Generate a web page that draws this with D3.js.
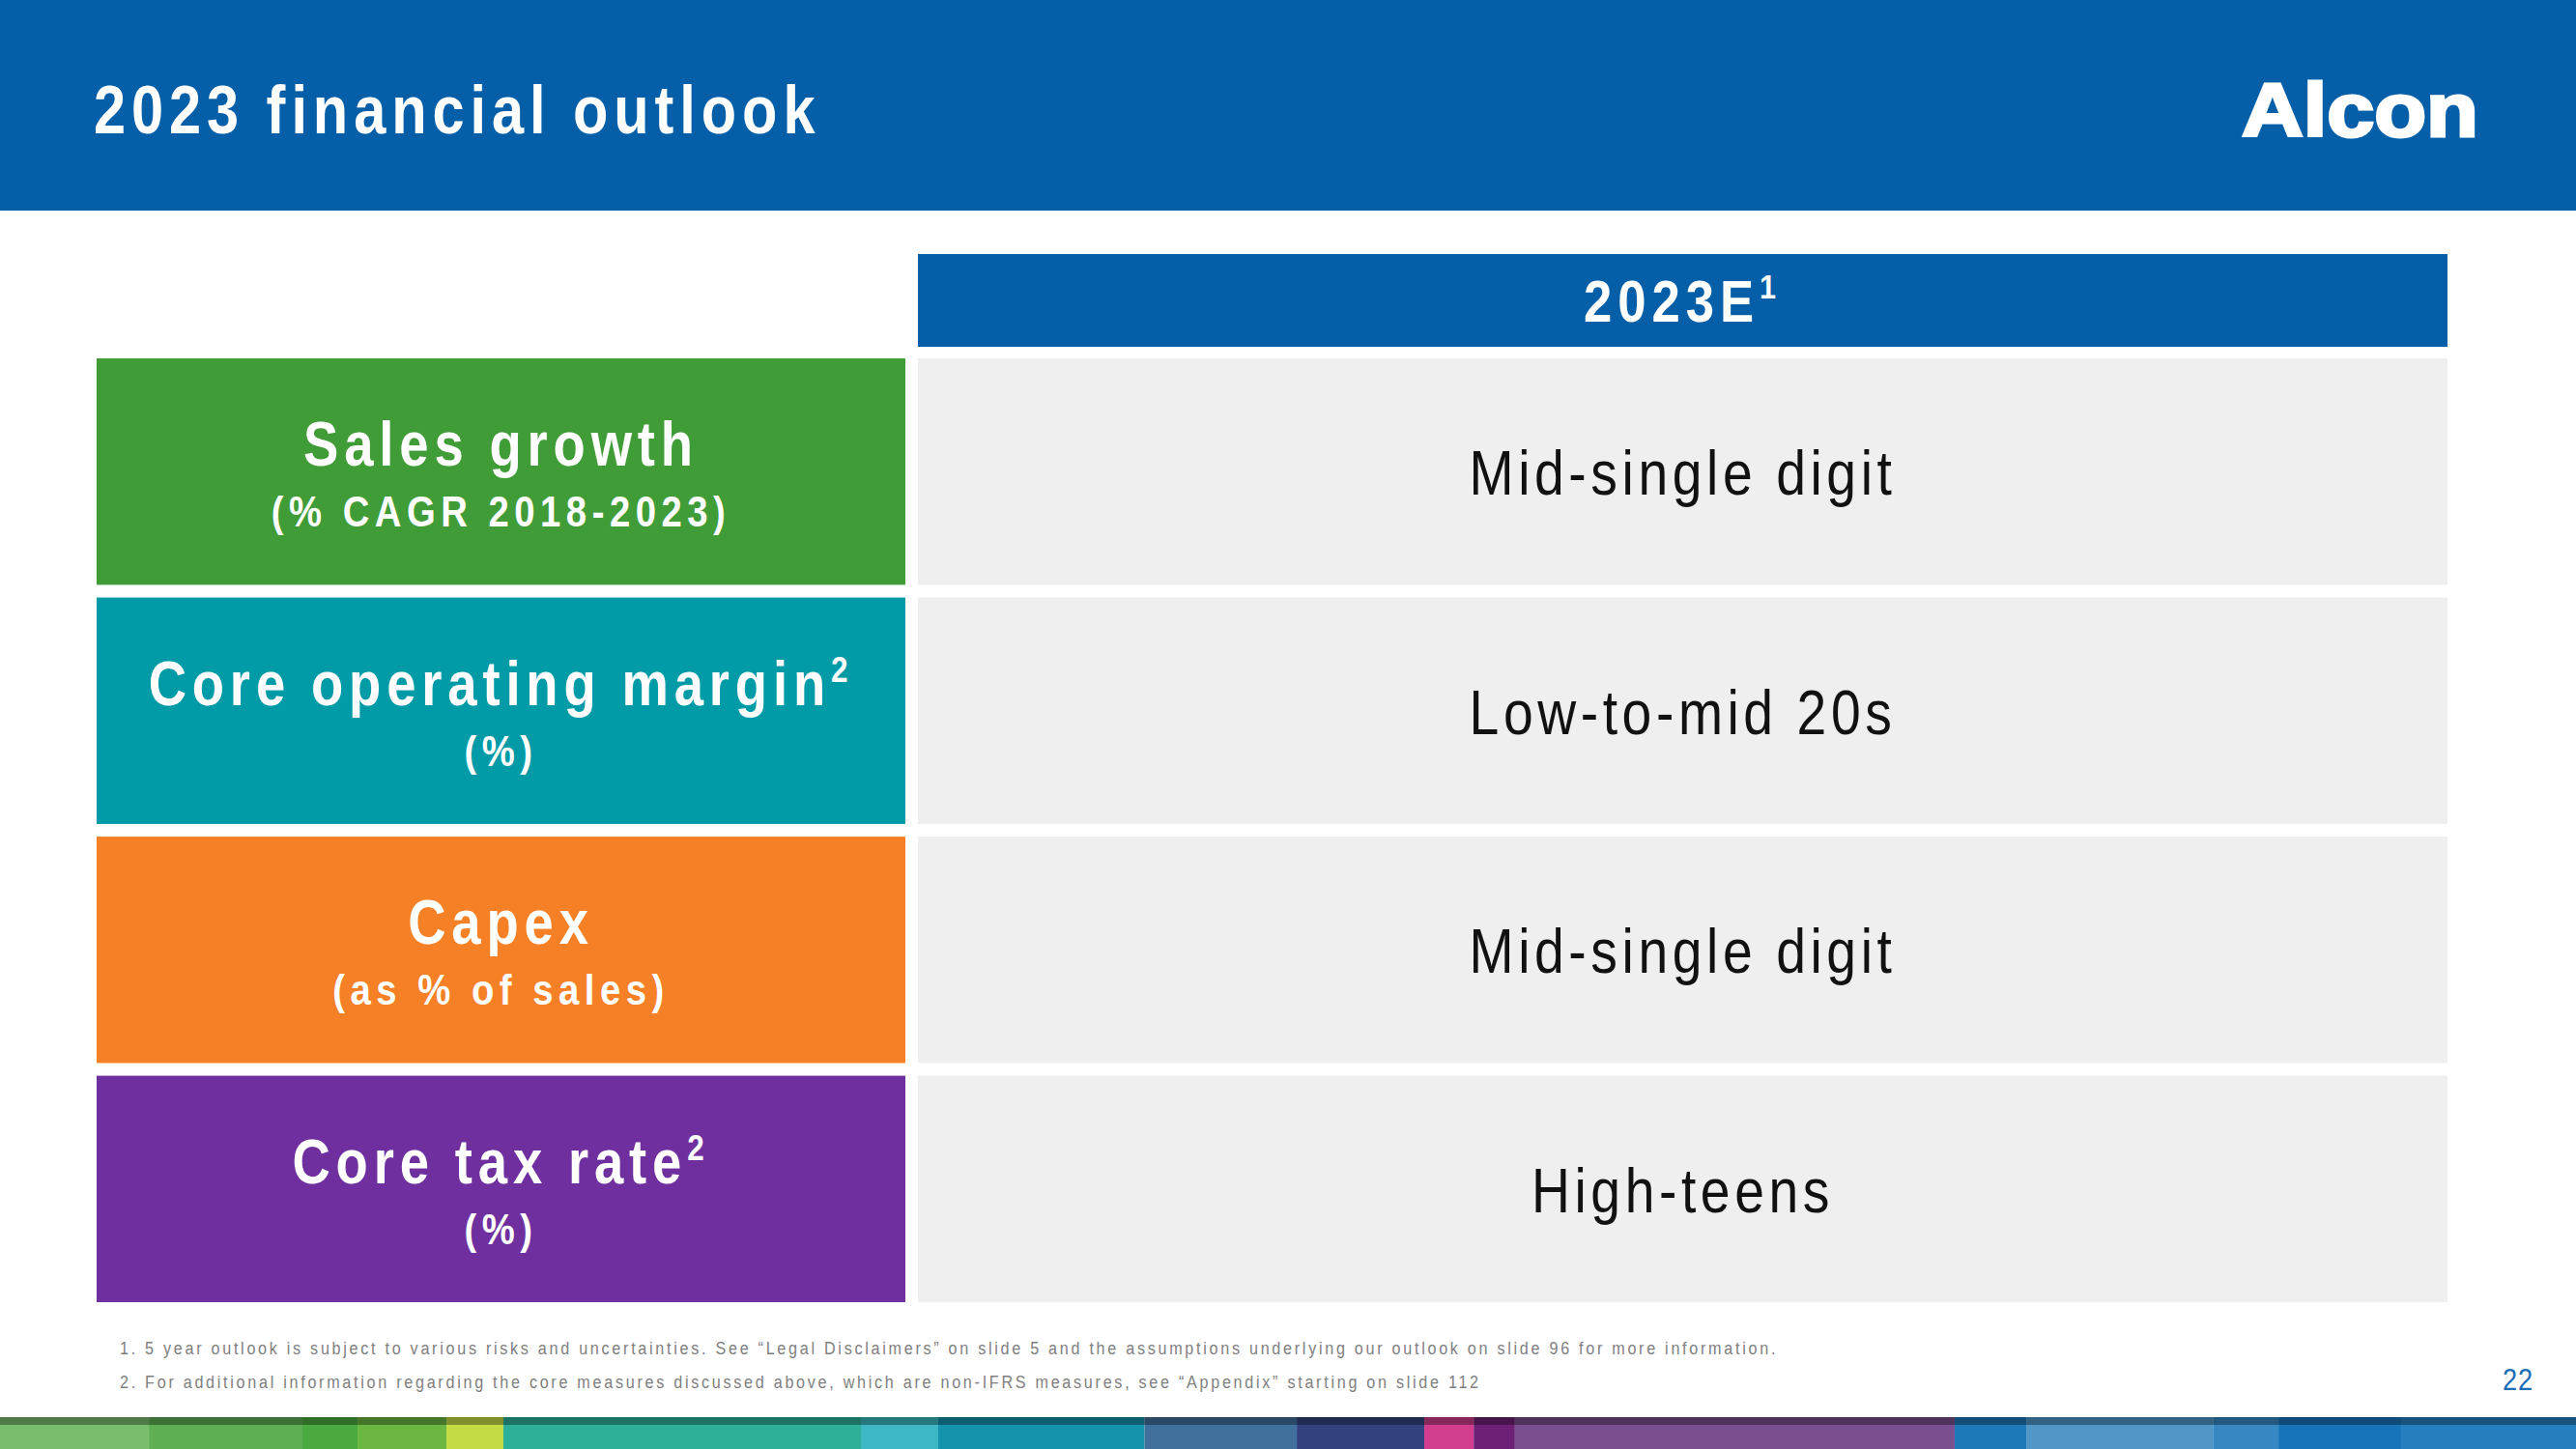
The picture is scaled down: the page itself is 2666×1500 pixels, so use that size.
<!DOCTYPE html>
<html>
<head>
<meta charset="utf-8">
<title>2023 financial outlook</title>
<script src="https://cdn.jsdelivr.net/npm/d3@7"></script>
<style>
  html, body { margin: 0; padding: 0; background: #ffffff; }
  svg { display: block; }
  text { font-family: "Liberation Sans", Arial, Helvetica, sans-serif; }
</style>
</head>
<body>
<div id="slide"></div>
<script>
// ---------------- data ----------------
var slideTitle = "2023 financial outlook";
var columnHeader = "2023E";
var columnHeaderNote = "1";

// one entry per row, top to bottom
var rowLabels = ["Sales growth", "Core operating margin", "Capex", "Core tax rate"];
var rowLabelNotes = ["", "2", "", "2"];
var rowSubLabels = ["(% CAGR 2018-2023)", "(%)", "(as % of sales)", "(%)"];
var outlook2023 = ["Mid-single digit", "Low-to-mid 20s", "Mid-single digit", "High-teens"];

var footnotes = [
  "1. 5 year outlook is subject to various risks and uncertainties. See \u201cLegal Disclaimers\u201d on slide 5 and the assumptions underlying our outlook on slide 96 for more information.",
  "2. For additional information regarding the core measures discussed above, which are non-IFRS measures, see \u201cAppendix\u201d starting on slide 112"
];
var pageNumber = "22";

// decorative colour strip at the bottom: stops in % of slide width
var stripeStops = [0, 5.78, 11.74, 13.88, 17.33, 19.54, 33.42, 36.42, 44.43, 50.34, 55.29, 57.21, 58.81, 75.88, 78.66, 85.93, 88.45, 93.21, 100];
var stripeColors = ["#78be6c", "#5faf55", "#4aa93f", "#6bb742", "#c6dc45", "#2eaf98", "#3db7c3", "#1592ac",
                    "#41709d", "#33427f", "#d23d8e", "#6d2176", "#7a4f90", "#1d79b8", "#5097c8", "#3787c3",
                    "#1774ba", "#2680c0"];

// ---------------- styles ----------------
var brandBlue = "#045fa8";
var rowColors = ["#409c36", "#009ba7", "#f58025", "#6f2f9f"];
var cellGrey = "#efefef";
// the slide font is a condensed sans: squeeze glyphs horizontally
var narrow = 0.85;

// ---------------- layout ----------------
var W = 2666, H = 1500;
var headerH = 218;
var leftX0 = 100, leftX1 = 937;     // label column
var rightX0 = 950, rightX1 = 2533;  // 2023E column
var colHeadY0 = 263, colHeadY1 = 359;

var svg = d3.select("#slide").append("svg")
  .attr("width", W)
  .attr("height", H)
  .attr("viewBox", "0 0 " + W + " " + H);

// rows placed by a band scale
var y = d3.scaleBand()
  .domain(d3.range(rowLabels.length))
  .range([371, 1348])
  .paddingInner(0.053);

// place a text at (x, y) with the condensed look
function at(x, yy) {
  return "translate(" + x + "," + yy + ") scale(" + narrow + ",1)";
}

// title bar
svg.append("rect")
  .attr("x", 0).attr("y", 0)
  .attr("width", W).attr("height", headerH)
  .attr("fill", brandBlue);

svg.append("text")
  .attr("transform", at(97, 138))
  .attr("fill", "#ffffff")
  .attr("font-size", 70)
  .attr("font-weight", "bold")
  .attr("letter-spacing", 7)
  .text(slideTitle);

// logo (drawn as text)
svg.append("text")
  .attr("x", 2320)
  .attr("y", 141)
  .attr("fill", "#ffffff")
  .attr("stroke", "#ffffff")
  .attr("stroke-width", 3)
  .attr("font-family", "'DejaVu Sans', Verdana, sans-serif")
  .attr("font-size", 78)
  .attr("font-weight", "bold")
  .attr("textLength", 245)
  .attr("lengthAdjust", "spacingAndGlyphs")
  .text("Alcon");

// column header
svg.append("rect")
  .attr("x", rightX0).attr("y", colHeadY0)
  .attr("width", rightX1 - rightX0).attr("height", colHeadY1 - colHeadY0)
  .attr("fill", brandBlue);

var headText = svg.append("text")
  .attr("transform", at((rightX0 + rightX1) / 2, (colHeadY0 + colHeadY1) / 2 + 22))
  .attr("text-anchor", "middle")
  .attr("fill", "#ffffff")
  .attr("font-size", 62)
  .attr("font-weight", "bold")
  .attr("letter-spacing", 7);
headText.append("tspan").text(columnHeader);
headText.append("tspan")
  .attr("font-size", 36)
  .attr("dy", -24)
  .text(columnHeaderNote);

// rows
var rows = svg.selectAll("g.row")
  .data(rowLabels)
  .enter().append("g")
  .attr("class", "row")
  .attr("transform", function (d, i) { return "translate(0," + y(i) + ")"; });

rows.append("rect")
  .attr("x", leftX0)
  .attr("width", leftX1 - leftX0)
  .attr("height", y.bandwidth())
  .attr("fill", function (d, i) { return rowColors[i]; });

rows.append("rect")
  .attr("x", rightX0)
  .attr("width", rightX1 - rightX0)
  .attr("height", y.bandwidth())
  .attr("fill", cellGrey);

var labelCx = (leftX0 + leftX1) / 2;
var mid = y.bandwidth() / 2;

var label = rows.append("text")
  .attr("transform", at(labelCx, mid - 6))
  .attr("text-anchor", "middle")
  .attr("fill", "#ffffff")
  .attr("font-size", 64)
  .attr("font-weight", "bold")
  .attr("letter-spacing", 6.9);
label.append("tspan").text(function (d) { return d; });
label.append("tspan")
  .attr("font-size", 37)
  .attr("dy", -24)
  .text(function (d, i) { return rowLabelNotes[i]; });

rows.append("text")
  .attr("transform", at(labelCx, mid + 57))
  .attr("text-anchor", "middle")
  .attr("fill", "#ffffff")
  .attr("font-size", 45)
  .attr("font-weight", "bold")
  .attr("letter-spacing", 6.5)
  .text(function (d, i) { return rowSubLabels[i]; });

rows.append("text")
  .attr("transform", at((rightX0 + rightX1) / 2, mid + 24))
  .attr("text-anchor", "middle")
  .attr("fill", "#111111")
  .attr("font-size", 65)
  .attr("letter-spacing", 5.4)
  .text(function (d, i) { return outlook2023[i]; });

// footnotes
svg.selectAll("text.note")
  .data(footnotes)
  .enter().append("text")
  .attr("class", "note")
  .attr("transform", function (d, i) { return at(124, 1402 + i * 35); })
  .attr("fill", "#808080")
  .attr("font-size", 19)
  .attr("letter-spacing", 3.2)
  .text(function (d) { return d; });

svg.append("text")
  .attr("transform", at(2622, 1439))
  .attr("text-anchor", "end")
  .attr("fill", "#1a6db5")
  .attr("font-size", 32)
  .attr("letter-spacing", 1)
  .text(pageNumber);

// bottom colour strip
var sx = d3.scaleLinear().domain([0, 100]).range([0, W]);
var stripeY = 1467;

svg.selectAll("rect.stripe")
  .data(stripeColors)
  .enter().append("rect")
  .attr("class", "stripe")
  .attr("x", function (d, i) { return sx(stripeStops[i]); })
  .attr("y", stripeY)
  .attr("width", function (d, i) { return sx(stripeStops[i + 1]) - sx(stripeStops[i]); })
  .attr("height", H - stripeY)
  .attr("fill", function (d) { return d; });

// darker top edge of the strip
svg.append("rect")
  .attr("x", 0).attr("y", stripeY)
  .attr("width", W).attr("height", 8)
  .attr("fill", "#000000")
  .attr("opacity", 0.35);
</script>
</body>
</html>
